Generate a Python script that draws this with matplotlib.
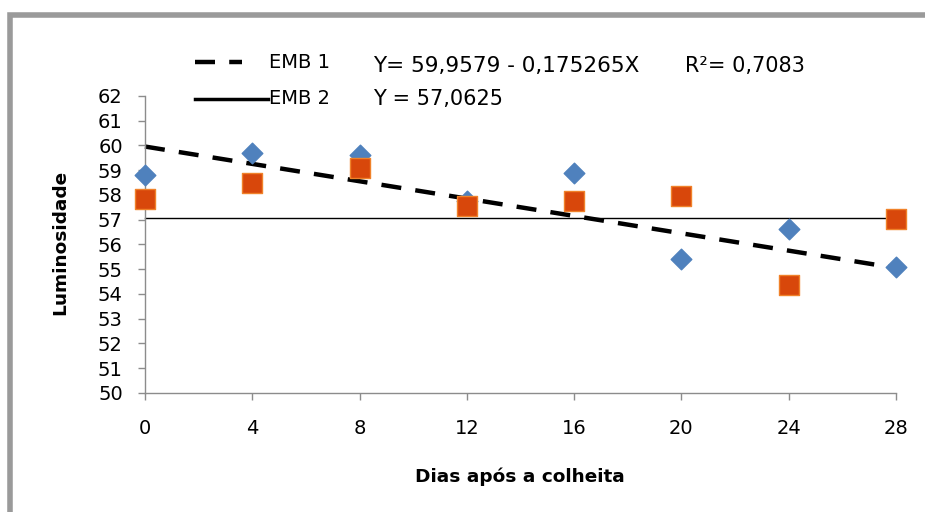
import matplotlib
matplotlib.use("Agg")
import matplotlib.pyplot as plt
from matplotlib.lines import Line2D
from matplotlib.patches import Rectangle
import numpy as np

plt.rcParams['font.family'] = ['DejaVu Sans']

days = [0, 4, 8, 12, 16, 20, 24, 28]
emb1 = [58.81, 59.70, 59.62, 57.75, 58.90, 55.41, 56.63, 55.09]
emb2 = [57.84, 58.48, 59.09, 57.56, 57.76, 57.96, 54.36, 57.05]
a1, b1 = 59.9579, -0.175265
c2 = 57.0625
xticks = [0, 4, 8, 12, 16, 20, 24, 28]
yticks = list(range(50, 63))

W, H = 925, 512
fig = plt.figure(figsize=(W / 100, H / 100), dpi=100)
ax = fig.add_axes([145 / W, 1 - 393 / H, (896 - 145) / W, (393 - 96) / H])

xs = np.array([days[0], days[-1]])
ax.plot(xs, a1 + b1 * xs, color='black', lw=3.2, dashes=(4.5, 3.2), zorder=2, clip_on=False)
ax.plot(xs, [c2, c2], color='black', lw=1.0, zorder=2, clip_on=False)
ax.scatter(days, emb1, marker='D', s=110, color='#4F81BD', edgecolors='#4F81BD', zorder=3,
           clip_on=False)
ax.scatter(days, emb2, marker='s', s=200, color='#D8470B', edgecolors='#F0822A', lw=1, zorder=4,
           clip_on=False)

ax.set_xlim(0, 28)
ax.set_ylim(50, 62)
ax.set_xticks(xticks)
ax.set_yticks(yticks)
for s in ['top', 'right']:
    ax.spines[s].set_visible(False)
for s in ['left', 'bottom']:
    ax.spines[s].set_color('#8C8C8C')
    ax.spines[s].set_linewidth(1.0)
ax.tick_params(axis='both', colors='#8C8C8C', labelcolor='black', labelsize=14, length=5, width=1)
ax.tick_params(axis='x', pad=14)
ax.tick_params(axis='y', pad=11)
ax.margins(0)

fig.text(60 / W, 1 - 242 / H, 'Luminosidade', rotation=90, fontsize=13.3, fontweight='bold',
         ha='center', va='center')
fig.text(520 / W, 1 - 477 / H, 'Dias após a colheita', fontsize=13.3, fontweight='bold',
         ha='center', va='center')

# legend
fig.add_artist(Line2D([195 / W, 242 / W], [1 - 62 / H] * 2, color='black', lw=3.2,
                      dashes=(4.5, 3.2)))
fig.add_artist(Line2D([195 / W, 268 / W], [1 - 99 / H] * 2, color='black', lw=2.5))
fig.text(269 / W, 1 - 62 / H, 'EMB 1', fontsize=14, ha='left', va='center')
fig.text(269 / W, 1 - 99 / H, 'EMB 2', fontsize=14, ha='left', va='center')
fig.text(373 / W, 1 - 66 / H, 'Y= 59,9579 - 0,175265X', fontsize=15.5, ha='left', va='center')
fig.text(685 / W, 1 - 66 / H, 'R²= 0,7083', fontsize=15, ha='left', va='center')
fig.text(373 / W, 1 - 99 / H, 'Y = 57,0625', fontsize=15, ha='left', va='center')

# outer frame
fig.add_artist(Rectangle((10 / W, -0.1), 1.2, 1 - 14.5 / H + 0.1, transform=fig.transFigure,
                         fill=False, edgecolor='#9A9A9A', lw=4))

fig.savefig('out.png', dpi=100)
